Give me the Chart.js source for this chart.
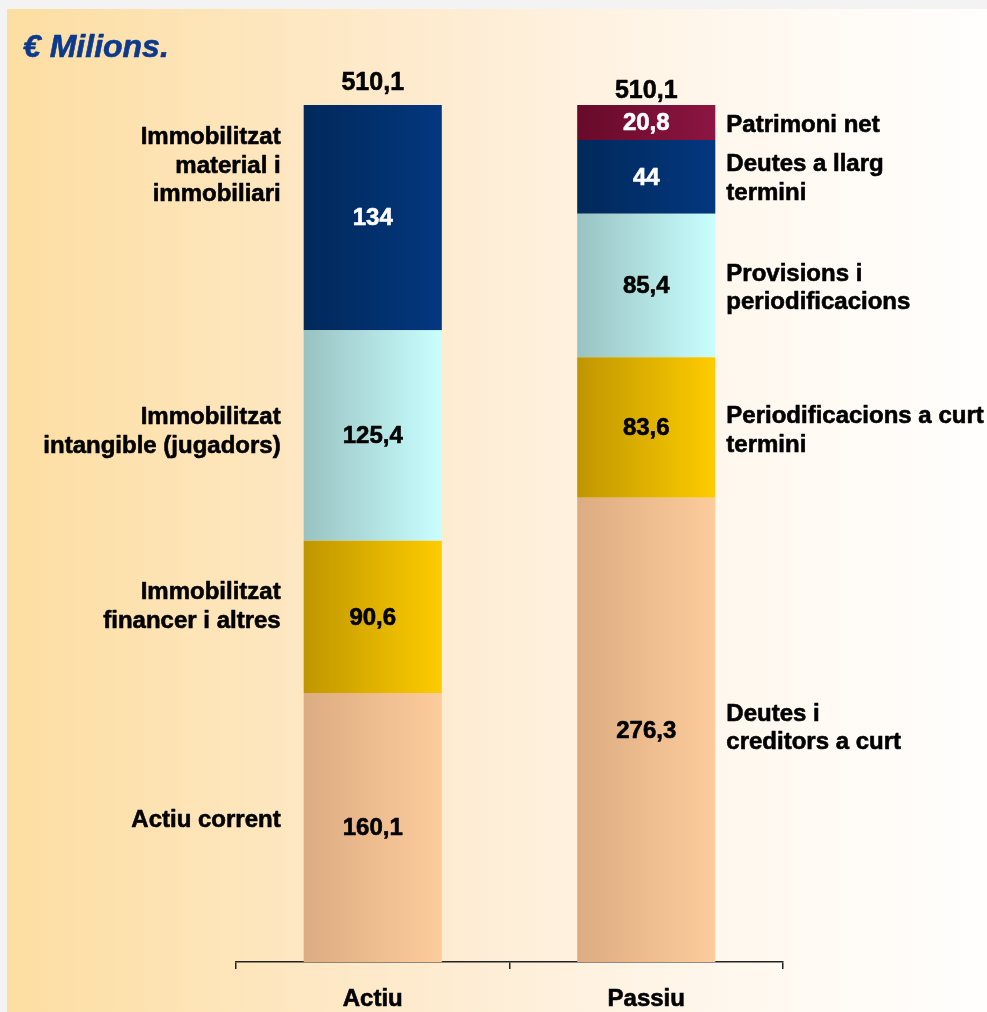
<!DOCTYPE html>
<html><head><meta charset="utf-8">
<script src="https://cdn.jsdelivr.net/npm/chart.js@4.4.1/dist/chart.umd.min.js"></script>
<style>html,body{margin:0;padding:0;background:#f3f3f3;overflow:hidden}canvas{display:block}</style>
</head><body><canvas id="c" width="987" height="1012"></canvas>
<script>
// ---- data ----
const categories = ['Actiu', 'Passiu'];
const peachValues  = [160.1, 276.3];  // Actiu corrent / Deutes i creditors a curt
const goldValues   = [90.6, 83.6];    // Immobilitzat financer / Periodificacions a curt termini
const cyanValues   = [125.4, 85.4];   // Immobilitzat intangible / Provisions i periodificacions
const navyValues   = [134, 44];       // Immobilitzat material / Deutes a llarg termini
const maroonValues = [null, 20.8];    // Patrimoni net
const titleText = '€ Milions.';
const leftLabels = [['Immobilitzat', 'material i', 'immobiliari'], ['Immobilitzat', 'intangible (jugadors)'], ['Immobilitzat', 'financer i altres'], ['Actiu corrent']];
const leftLabelAt = [473.8, 315.5, 211.3, 84.5];
const rightLabels = [['Patrimoni net'], ['Deutes a llarg', 'termini'], ['Provisions i', 'periodificacions'], ['Periodificacions a curt', 'termini'], ['Deutes i', 'creditors a curt']];
const rightLabelAt = [498.2, 466.1, 400.9, 316.1, 139.0];

const FONT = '"Liberation Sans", Arial, Helvetica, sans-serif';
const CAT_PCT = 0.505;

function fmt(v) {
  const r = Math.round(v * 10) / 10;
  return Number.isInteger(r) ? String(r) : r.toFixed(1).replace('.', ',');
}

function barGrad(c0, c1) {
  return function (ctx) {
    const chart = ctx.chart;
    const area = chart.chartArea;
    if (!area || !chart.scales.x) return c1;
    const cx = chart.scales.x.getPixelForValue(ctx.dataIndex);
    const half = (area.width / categories.length) * CAT_PCT / 2;
    const g = chart.ctx.createLinearGradient(cx - half, 0, cx + half, 0);
    g.addColorStop(0, c0);
    g.addColorStop(1, c1);
    return g;
  };
}

function drawText(ctx, s, x, y, align) {
  ctx.textAlign = align;
  ctx.strokeStyle = ctx.fillStyle;
  ctx.lineWidth = 0.6;
  ctx.lineJoin = 'round';
  ctx.strokeText(s, x, y);
  ctx.fillText(s, x, y);
}

const bgPlugin = {
  id: 'bg',
  beforeDraw(chart) {
    const c = chart.ctx, W = chart.width, H = chart.height;
    c.save();
    c.fillStyle = '#f3f3f3';
    c.fillRect(0, 0, W, H);
    const g = c.createLinearGradient(7, 0, W, 0);
    g.addColorStop(0, '#fddea2');
    g.addColorStop(0.45, '#feecd2');
    g.addColorStop(0.75, '#fff8ef');
    g.addColorStop(1, '#fffefd');
    c.fillStyle = g;
    c.fillRect(7, 9, W - 7, H - 9);
    // title
    c.fillStyle = '#0b3a8c';
    c.font = 'italic bold 32px ' + FONT;
    c.textBaseline = 'alphabetic';
    drawText(c, titleText, 23, 57, 'left');
    c.restore();
  }
};

const labelPlugin = {
  id: 'labels',
  afterDatasetsDraw(chart) {
    const c = chart.ctx;
    const y = chart.scales.y;
    c.save();
    c.textBaseline = 'middle';
    // values inside bars
    chart.data.datasets.forEach((ds, di) => {
      const meta = chart.getDatasetMeta(di);
      meta.data.forEach((el, i) => {
        const v = ds.data[i];
        if (v == null) return;
        c.fillStyle = ds.labelColor;
        c.font = 'bold 24px ' + FONT;
        drawText(c, fmt(v), el.x, (el.y + el.base) / 2 + 1, 'center');
      });
    });
    // totals above bars
    const totalOffsets = [22, 14];
    categories.forEach((cat, i) => {
      let sum = 0;
      chart.data.datasets.forEach(ds => { sum += ds.data[i] || 0; });
      const cx = chart.scales.x.getPixelForValue(i);
      c.fillStyle = '#000';
      c.font = 'bold 25px ' + FONT;
      drawText(c, fmt(sum), cx, y.getPixelForValue(sum) - totalOffsets[i], 'center');
    });
    // side labels
    const area = chart.chartArea;
    const half = (area.width / categories.length) * CAT_PCT / 2;
    const leftX = chart.scales.x.getPixelForValue(0) - half - 23;
    const rightX = chart.scales.x.getPixelForValue(1) + half + 11;
    const LH = 28.5;
    c.font = 'bold 24px ' + FONT;
    c.fillStyle = '#000';
    leftLabels.forEach((lines, k) => {
      const cy = y.getPixelForValue(leftLabelAt[k]);
      const y0 = cy - (lines.length - 1) * LH / 2;
      lines.forEach((s, j) => drawText(c, s, leftX, y0 + j * LH, 'right'));
    });
    rightLabels.forEach((lines, k) => {
      const cy = y.getPixelForValue(rightLabelAt[k]);
      const y0 = cy - (lines.length - 1) * LH / 2;
      lines.forEach((s, j) => drawText(c, s, rightX, y0 + j * LH, 'left'));
    });
    c.restore();
  }
};

new Chart(document.getElementById('c'), {
  type: 'bar',
  data: {
    labels: categories,
    datasets: [
      { label: 'peach', data: peachValues, backgroundColor: barGrad('#dcac82', '#fdcc9c'), labelColor: '#000' },
      { label: 'gold', data: goldValues, backgroundColor: barGrad('#bf9600', '#fecc00'), labelColor: '#000' },
      { label: 'cyan', data: cyanValues, backgroundColor: barGrad('#99c2c2', '#c9ffff'), labelColor: '#000' },
      { label: 'navy', data: navyValues, backgroundColor: barGrad('#01295a', '#03377f'), labelColor: '#fff' },
      { label: 'maroon', data: maroonValues, backgroundColor: barGrad('#680a2a', '#8c1541'), labelColor: '#fff' }
    ]
  },
  options: {
    responsive: false,
    animation: false,
    events: [],
    layout: { padding: { left: 236, right: 204, top: 105, bottom: 0 } },
    plugins: { legend: { display: false }, tooltip: { enabled: false }, title: { display: false } },
    datasets: { bar: { barPercentage: 1, categoryPercentage: CAT_PCT, borderWidth: 0 } },
    scales: {
      x: {
        stacked: true,
        grid: { offset: true, drawOnChartArea: false, drawTicks: true, tickLength: 7, color: '#222', lineWidth: 1.5 },
        border: { display: true, color: '#222', width: 1.5 },
        ticks: { color: '#000', font: { family: FONT, size: 24, weight: 'bold' }, padding: 16, textStrokeColor: '#000', textStrokeWidth: 0.6 },
        afterFit(scale) { scale.height = 50; }
      },
      y: { stacked: true, display: false, min: 0, max: 510.1 }
    }
  },
  plugins: [bgPlugin, labelPlugin]
});
</script>
</body></html>
